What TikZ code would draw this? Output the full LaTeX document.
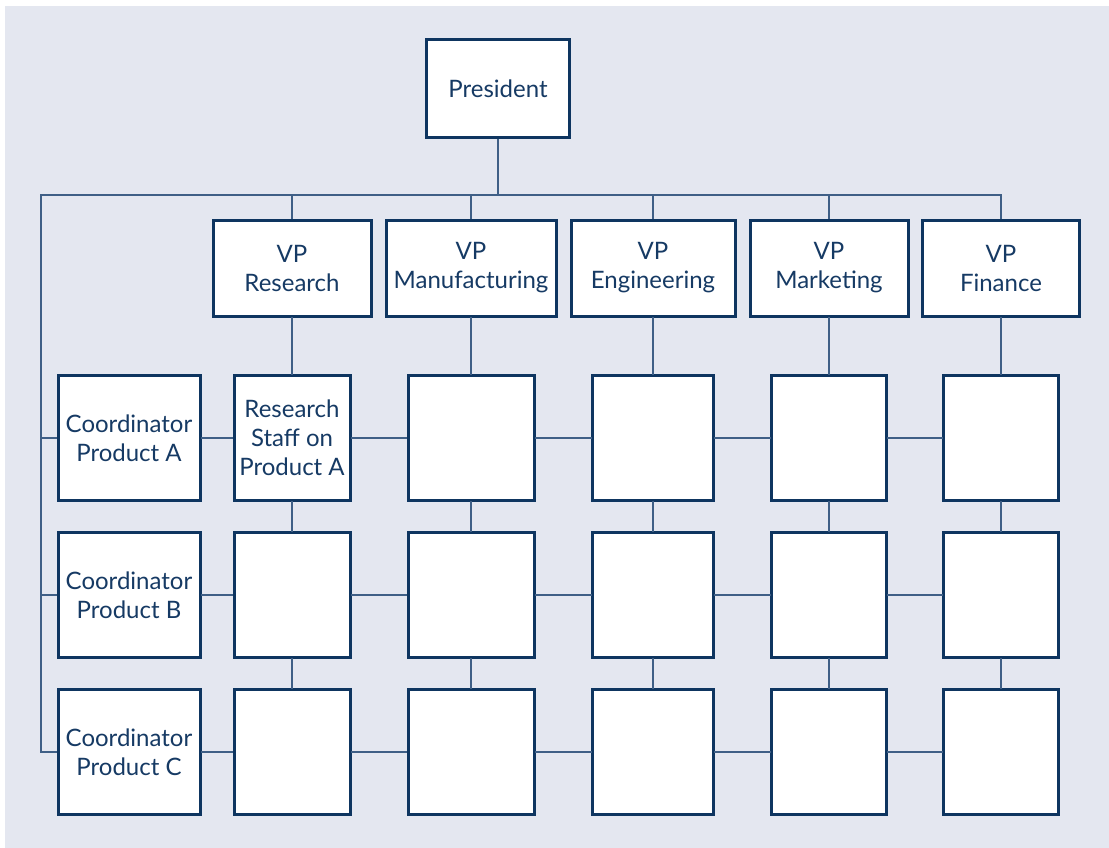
\documentclass[tikz,border=0pt]{standalone}
\usepackage{fontspec}
\setmainfont{Lato}
\usetikzlibrary{positioning}
\definecolor{bgpanel}{HTML}{E4E7F0}
\definecolor{boxline}{HTML}{0E3560}
\definecolor{wireline}{HTML}{3F5F86}
\definecolor{boxtext}{HTML}{163A64}
\tikzset{
  box/.style={draw=boxline,line width=3pt,fill=white,text=boxtext,align=center,
    inner sep=0pt,font=\fontsize{24}{29}\selectfont},
  vpbox/.style={box,minimum height=96},
  cellbox/.style={box,minimum height=125},
  wire/.style={draw=wireline,line width=1.8pt}
}
\begin{document}
\begin{tikzpicture}[x=1pt,y=-1pt,line cap=rect,line join=miter]
\useasboundingbox (0,0) rectangle (1109,848);
\fill[bgpanel] (5,6) rectangle (1109,848);
% top
\node[box,minimum width=143,minimum height=98] (pres) at (498,89) {President};
\coordinate (busL) at (41,195);
% vice presidents
\node[vpbox,minimum width=158] (vpres) at (292,268) {VP\\Research};
\node[vpbox,minimum width=170] (vpman) at (471,268) {VP\\Manufacturing};
\node[vpbox,minimum width=164] (vpeng) at (653,268) {VP\\Engineering};
\node[vpbox,minimum width=158] (vpmkt) at (829,268) {VP\\Marketing};
\node[vpbox,minimum width=157] (vpfin) at (1001,268) {VP\\Finance};
% coordinators
\node[cellbox,minimum width=142] (crdA) at (129,438) {Coordinator\\Product A};
\node[cellbox,minimum width=142] (crdB) at (129,595) {Coordinator\\Product B};
\node[cellbox,minimum width=142] (crdC) at (129,752) {Coordinator\\Product C};
% matrix cells
\node[cellbox,minimum width=116] (resA) at (292,438) {Research\\Staff on\\Product A};
\node[cellbox,minimum width=116] (resB) at (292,595) {};
\node[cellbox,minimum width=116] (resC) at (292,752) {};
\foreach \nm/\cx/\cw in {man/471/126,eng/653/121,mkt/829/115,fin/1001/115}
  \foreach \rw/\cy in {A/438,B/595,C/752}
    \node[cellbox,minimum width=\cw] (\nm\rw) at (\cx,\cy) {};
% wires
\draw[wire] (pres.south) -- (pres.south |- busL);
\draw[wire] (busL) -- (vpfin.north |- busL);
\draw[wire] (busL) -- (busL |- crdC.west);
\foreach \rw in {A,B,C}
  \draw[wire] (busL |- crd\rw.west) -- (crd\rw.west);
\foreach \nm in {res,man,eng,mkt,fin}{
  \draw[wire] (vp\nm.north) -- (vp\nm.north |- busL);
  \draw[wire] (vp\nm.south) -- (\nm A.north);
  \draw[wire] (\nm A.south) -- (\nm B.north);
  \draw[wire] (\nm B.south) -- (\nm C.north);
}
\foreach \a/\b in {crd/res,res/man,man/eng,eng/mkt,mkt/fin}
  \foreach \rw in {A,B,C}
    \draw[wire] (\a\rw.east) -- (\b\rw.west);
\end{tikzpicture}
\end{document}
